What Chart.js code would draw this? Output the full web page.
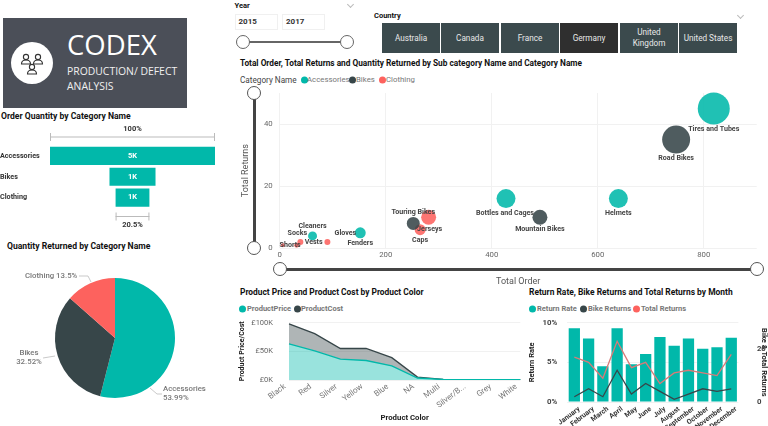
<!DOCTYPE html>
<html><head><meta charset="utf-8">
<script src="https://cdn.jsdelivr.net/npm/chart.js@4"></script>
<style>
html,body{margin:0;padding:0;background:#fff;width:768px;height:426px;overflow:hidden;font-family:Roboto,sans-serif}
canvas{position:absolute;display:block}
.t{position:absolute;white-space:nowrap;transform:translateY(-50%);line-height:1}
.title{font-weight:700;font-size:8.6px;color:#111}
.box{position:absolute}
.btn{position:absolute;top:23px;height:30px;background:#3b4a4d;color:#e8e8e8;font-family:Roboto,sans-serif;font-size:8.2px;display:flex;align-items:center;justify-content:center;text-align:center;line-height:11px}
.dot{position:absolute;border-radius:50%;width:7px;height:7px;transform:translateY(-50%)}
.knob{position:absolute;width:12px;height:12px;border-radius:50%;background:#fff;border:1.5px solid #555;transform:translate(-50%,-50%);box-sizing:content-box}
.rail{position:absolute;background:#444}
.chev{position:absolute;width:4px;height:4px;border-right:1px solid #bbb;border-bottom:1px solid #bbb;transform:rotate(45deg)}
</style></head><body>
<div id="ui"></div>
<script>
// ---------- data ----------
const funnelCategories = ["Accessories","Bikes","Clothing"];
const funnelValues = [5000,1395,1025];
const funnelLabels = ["5K","1K","1K"];

const pieCategories = ["Accessories","Bikes","Clothing"];
const pieValues = [53.99,32.52,13.5];

const countries = ["Australia","Canada","France","Germany","United Kingdom","United States"];

const accessoryNames = ["Tires and Tubes","Helmets","Bottles and Cages","Fenders","Cleaners"];
const accessoryOrders = [819,639,427,152,62];
const accessoryReturns = [45,16,16,5,4];
const accessoryQuantity = [256,90,90,30,20];

const bikeNames = ["Road Bikes","Mountain Bikes","Touring Bikes"];
const bikeOrders = [748,491,252];
const bikeReturns = [35,10,8];
const bikeQuantity = [196,56,42];

const clothingNames = ["Jerseys","Caps","Gloves","Socks","Vests","Shorts"];
const clothingOrders = [281,265,90,39,32,6];
const clothingReturns = [10,6,2,2,1,1];
const clothingQuantity = [56,30,9,9,6,4];

const productColors = ["Black","Red","Silver","Yellow","Blue","NA","Multi","Silver/B...","Grey","White"];
const productPrice = [63000,51000,36500,34000,24500,3500,1000,500,500,500];
const productCost = [98000,81000,55000,55000,39000,5000,1200,600,600,600];

const months = ["January","February","March","April","May","June","July","August","September","October","November","December"];
const returnRate = [9.3,8.0,4.5,9.3,4.75,6.05,8.2,7.1,8.0,6.7,6.9,8.1];
const bikeReturnsByMonth = [2,5,2,12,3,7,4,1,3,5,4,5];
const totalReturnsByMonth = [17,15,9,23,13,15,7,11,12,11,10,18];

// ---------- palette & helpers ----------
const TEAL="#01B8AA",DARK="#374649",RED="#FD625E";
const UI="Roboto,sans-serif";
Chart.defaults.font.family=UI;
Chart.defaults.animation=false;
Chart.defaults.responsive=false;
Chart.defaults.plugins.legend.display=false;
Chart.defaults.plugins.tooltip.enabled=false;
Chart.defaults.layout.autoPadding=false;

const ui=document.getElementById("ui");
function el(cls,css,html){const d=document.createElement("div");d.className=cls;d.style.cssText=css;if(html!==undefined)d.innerHTML=html;ui.appendChild(d);return d;}
function text(x,y,s,css,cls){return el("t "+(cls||""),`left:${x}px;top:${y}px;${css||""}`,s);}
function canvas(l,t,w,h){const c=document.createElement("canvas");c.width=w;c.height=h;c.style.left=l+"px";c.style.top=t+"px";c.style.width=w+"px";c.style.height=h+"px";document.body.appendChild(c);return c;}
function fit(size){return s=>{if(s.isHorizontal())s.height=size;else s.width=size;s.paddingLeft=s.paddingRight=s.paddingTop=s.paddingBottom=0;};}
function legend(y,items,css){items.forEach(it=>{el("dot",`left:${it.x}px;top:${y}px;background:${it.c}`);text(it.x+it.tx,y,it.s,css);});}

// ---------- banner ----------
el("box","left:3px;top:18px;width:184px;height:90px;background:#4b4f58");
el("box","left:11px;top:42px;width:42px;height:42px;border-radius:50%;background:#fff;display:flex;align-items:center;justify-content:center",
`<svg width="24" height="24" viewBox="0 0 24 24" fill="none" stroke="#333" stroke-width="1.1"><circle cx="6" cy="6" r="2.6"/><circle cx="18" cy="6" r="2.6"/><circle cx="12" cy="16" r="2.6"/><path d="M1.5 13c0-3 2-4 4.500-4s4.500 1 4.500 4zM13.500 13c0-3 2-4 4.500-4s4.500 1 4.500 4zM7.500 23c0-3 2-4 4.500-4s4.500 1 4.500 4z"/></svg>`);
text(67,45,"CODEX",'color:#fff;font-family:"Open Sans",sans-serif;font-size:27.5px');
text(67,71,"PRODUCTION/ DEFECT",'color:#f0f0f0;font-family:"Open Sans",sans-serif;font-size:10.4px');
text(67,85.500,"ANALYSIS",'color:#f0f0f0;font-family:"Open Sans",sans-serif;font-size:10.4px');

// ---------- titles ----------
text(1,116,"Order Quantity by Category Name","","title");
text(7,246,"Quantity Returned by Category Name","","title");
text(240,63,"Total Order, Total Returns and Quantity Returned by Sub category Name and Category Name","font-size:8.3px","title");
text(240,292,"Product Price and Product Cost by Product Color","font-size:8.4px","title");
text(529,292,"Return Rate, Bike Returns and Total Returns by Month","font-size:8.45px","title");

// ---------- year slicer ----------
text(234.500,5.500,"Year","font-weight:700;font-size:7.500px;color:#111");
el("box","left:235px;top:14px;width:43px;height:16px;border:1px solid #f0f0f0;box-sizing:border-box");
el("box","left:282px;top:14px;width:43px;height:16px;border:1px solid #f0f0f0;box-sizing:border-box");
text(238.500,22,"2015","font-weight:700;font-size:8px;color:#333");
text(286,22,"2017","font-weight:700;font-size:8px;color:#333");
el("rail","left:243px;top:40.500px;width:104px;height:2px;background:#666");
el("knob","left:243px;top:41.500px;border-color:#666");
el("knob","left:347px;top:41.500px;border-color:#666");
el("chev","left:348px;top:2px");
el("chev","left:738px;top:13px");

// ---------- country slicer ----------
text(374,16,"Country","font-weight:700;font-size:7.500px;color:#111");
const btnX=[382,441,501,560,620,679];
countries.forEach((c,i)=>{const sel=c==="Germany";
  el("btn",`left:${btnX[i]}px;width:58px;${sel?"background:#2f2f2f;":""}`,c);});

// ---------- legends ----------
text(240,80,"Category Name","font-size:8.200px;color:#444");
legend(80,[{x:300.500,c:TEAL,s:"Accessories",tx:6.500},{x:349,c:DARK,s:"Bikes",tx:7},{x:378.500,c:RED,s:"Clothing",tx:7.500}],"font-size:7.800px;color:#777");
legend(309,[{x:239,c:TEAL,s:"ProductPrice",tx:8},{x:293.500,c:DARK,s:"ProductCost",tx:7.500}],"font-size:7.500px;font-weight:700;color:#777");
legend(309,[{x:529,c:TEAL,s:"Return Rate",tx:8},{x:580,c:DARK,s:"Bike Returns",tx:8},{x:633,c:RED,s:"Total Returns",tx:8}],"font-size:7.500px;font-weight:700;color:#777");

// ---------- funnel ----------
const funnelMarkers={id:"funnelMarkers",afterDraw(ch){
  const {ctx,scales:{x,y}}=ch;
  ctx.save();
  ctx.font="700 7.500px "+UI;ctx.textAlign="center";ctx.textBaseline="middle";
  ctx.fillStyle="#fff";
  funnelValues.forEach((v,i)=>ctx.fillText(funnelLabels[i],x.getPixelForValue(0),y.getPixelForValue(i)));
  const bracket=(v,by,ly,lab)=>{
    const a=x.getPixelForValue(-v/2),b=x.getPixelForValue(v/2);
    ctx.strokeStyle="#bbb";ctx.lineWidth=1;ctx.beginPath();
    ctx.moveTo(a,by);ctx.lineTo(b,by);ctx.moveTo(a+.5,by-4);ctx.lineTo(a+.5,by+4);ctx.moveTo(b-.5,by-4);ctx.lineTo(b-.5,by+4);ctx.stroke();
    ctx.fillStyle="#333";ctx.fillText(lab,(a+b)/2,ly);
  };
  bracket(funnelValues[0],27,19,"100%");
  bracket(funnelValues[2],106.500,115.500,"20.5%");
  ctx.restore();
}};
new Chart(canvas(0,110,230,125),{type:"bar",plugins:[funnelMarkers],
  data:{labels:funnelCategories,datasets:[{data:funnelValues.map(v=>[-v/2,v/2]),backgroundColor:TEAL,categoryPercentage:1,barPercentage:.87}]},
  options:{indexAxis:"y",layout:{padding:{top:35.500,right:15,bottom:27}},
    scales:{x:{min:-2500,max:2500,display:false},
      y:{afterFit:fit(50),grid:{display:false},border:{display:false},
        ticks:{crossAlign:"far",padding:0,font:{size:7.200,weight:"700"},color:"#333"}}}}});

// ---------- pie ----------
const pieText=[
 {lines:["Clothing 13.5%"],x:25,y:31,align:"left",path:[[79,31],[88,31],[91,37]]},
 {lines:["Bikes","32.52%"],x:29,y:108,align:"center",path:[[43,113],[55,111]]},
 {lines:["Accessories","53.99%"],x:163,y:144,align:"left",path:[[150,143],[157,149],[162,149]]}];
const pieLabels={id:"pieLabels",afterDraw(ch){
  const c=ch.ctx;c.save();c.font="500 7.800px "+UI;c.textBaseline="middle";c.fillStyle="#777";
  pieText.forEach(p=>{c.textAlign=p.align;p.lines.forEach((l,i)=>c.fillText(l,p.x,p.y+i*9));
    c.strokeStyle="#bbb";c.lineWidth=.8;c.beginPath();p.path.forEach((q,i)=>i?c.lineTo(q[0],q[1]):c.moveTo(q[0],q[1]));c.stroke();});
  c.restore();}};
new Chart(canvas(0,245,235,181),{type:"pie",plugins:[pieLabels],
  data:{labels:pieCategories,datasets:[{data:pieValues,backgroundColor:[TEAL,DARK,RED],borderWidth:0}]},
  options:{layout:{padding:{left:55,right:60,top:33,bottom:28}}}});

// ---------- bubble ----------
const labelOffset={"Tires and Tubes":[0,20.700],"Road Bikes":[0,18.600],"Helmets":[0,14.400],"Mountain Bikes":[0,12.300],"Bottles and Cages":[-1,14.500],
 "Touring Bikes":[0,-11.700],"Jerseys":[1,12],"Caps":[0,11],"Fenders":[0,10.400],"Cleaners":[0,-10],"Gloves":[18,-9],"Socks":[-3,-8.400],"Vests":[17,-2.700],"Shorts":[7.300,0]};
const bubbleLabels={id:"bubbleLabels",afterDatasetsDraw(ch){
  const c=ch.ctx;c.save();c.font="700 7.100px "+UI;c.textAlign="center";c.textBaseline="middle";c.fillStyle="#444";
  ch.data.datasets.forEach((d,di)=>ch.getDatasetMeta(di).data.forEach((p,i)=>{const n=d.names[i],o=labelOffset[n];c.fillText(n,p.x+o[0],p.y+o[1]);}));
  c.restore();}};
const bubbleRadius=q=>Math.sqrt(q);
function bubbleSet(names,xs,ys,qs,color){return {names,data:xs.map((x,i)=>({x,y:ys[i],r:bubbleRadius(qs[i])})),backgroundColor:color,borderWidth:0};}
new Chart(canvas(235,88,533,204),{type:"bubble",plugins:[bubbleLabels],
  data:{datasets:[
    bubbleSet(accessoryNames,accessoryOrders,accessoryReturns,accessoryQuantity,"rgba(1,184,170,.88)"),
    bubbleSet(bikeNames,bikeOrders,bikeReturns,bikeQuantity,"rgba(55,70,73,.88)"),
    bubbleSet(clothingNames,clothingOrders,clothingReturns,clothingQuantity,"rgba(253,98,94,.88)")]},
  options:{clip:false,layout:{padding:{top:5,right:11.300}},
    scales:{x:{min:0,max:900,afterFit:fit(43.700),border:{display:false},grid:{color:"#f1f1f1",drawTicks:false},
        ticks:{stepSize:200,includeBounds:false,padding:2,maxRotation:0,font:{size:7.800},color:"#666"},
        title:{display:true,text:"Total Order",color:"#555",font:{size:9},padding:{bottom:5}}},
      y:{min:0,max:50,afterFit:fit(44.700),border:{display:false},grid:{color:"#f1f1f1",drawTicks:false},
        ticks:{stepSize:20,includeBounds:false,padding:7,font:{size:7.800},color:"#666"},
        title:{display:true,text:"Total Returns",color:"#555",font:{size:9},padding:{top:5,bottom:0}}}}}});
el("rail","left:252.500px;top:93px;width:3px;height:155px");
el("knob","left:254px;top:93px");
el("knob","left:254px;top:248px");
el("rail","left:280px;top:267.500px;width:477px;height:3px");
el("knob","left:280px;top:269px");
el("knob","left:757px;top:269px");

// ---------- area ----------
new Chart(canvas(235,315,290,111),{type:"line",
  data:{labels:productColors,datasets:[
    {label:"ProductPrice",data:productPrice,borderColor:TEAL,backgroundColor:"rgba(1,184,170,.4)",fill:"origin",borderWidth:1.300,pointRadius:0,tension:0},
    {label:"ProductCost",data:productCost,borderColor:DARK,backgroundColor:"rgba(55,70,73,.4)",fill:0,borderWidth:1.300,pointRadius:0,tension:0}]},
  options:{layout:{padding:{top:7.700,right:4.700}},
    scales:{x:{afterFit:fit(46),offset:false,border:{display:false},grid:{display:false},
        ticks:{autoSkip:false,minRotation:37,maxRotation:37,padding:-6,labelOffset:-4,font:{size:8},color:"#777"},
        title:{display:true,text:"Product Color",color:"#222",font:{size:7.800,weight:"700"},padding:{bottom:3}}},
      y:{min:0,max:100000,afterFit:fit(54),border:{display:false},grid:{color:"#f1f1f1",drawTicks:false},
        ticks:{stepSize:50000,padding:16,font:{size:7.500},color:"#666",callback:v=>"£"+v/1000+"K"},
        title:{display:true,text:"Product Price/Cost",color:"#222",font:{size:7,weight:"700"},padding:{top:3,bottom:0}}}}}});

// ---------- combo ----------
new Chart(canvas(525,315,243,111),{type:"bar",
  data:{labels:months,datasets:[
    {type:"line",label:"Bike Returns",data:bikeReturnsByMonth,yAxisID:"yRight",borderColor:DARK,borderWidth:1.300,pointRadius:0,tension:0,order:1},
    {type:"line",label:"Total Returns",data:totalReturnsByMonth,yAxisID:"yRight",borderColor:"#d97a78",borderWidth:1.300,pointRadius:0,tension:0,order:2},
    {type:"bar",label:"Return Rate",data:returnRate,yAxisID:"yLeft",backgroundColor:TEAL,categoryPercentage:1,barPercentage:.79,order:3}]},
  options:{layout:{padding:{top:7.700}},
    scales:{x:{afterFit:fit(24),border:{display:false},grid:{display:false},
        ticks:{autoSkip:false,minRotation:37,maxRotation:37,padding:-5,labelOffset:5,font:{size:7,weight:"700"},color:"#333"}},
      yLeft:{position:"left",min:0,max:10,afterFit:fit(42.200),border:{display:false},grid:{color:"#f1f1f1",drawTicks:false},
        ticks:{stepSize:5,padding:10,font:{size:7.800,weight:"700"},color:"#444",callback:v=>v+"%"},
        title:{display:true,text:"Return Rate",color:"#222",font:{size:7.500,weight:"700"},padding:{top:3,bottom:0}}},
      yRight:{position:"right",min:0,max:30,afterFit:fit(29.600),border:{display:false},grid:{display:false},
        ticks:{stepSize:20,includeBounds:false,padding:10.500,font:{size:7.800,weight:"700"},color:"#444"},
        title:{display:true,text:"Bike & Total Returns",color:"#222",font:{size:7.500,weight:"700"},padding:{top:0,bottom:0}}}}}});
</script>
</body></html>
